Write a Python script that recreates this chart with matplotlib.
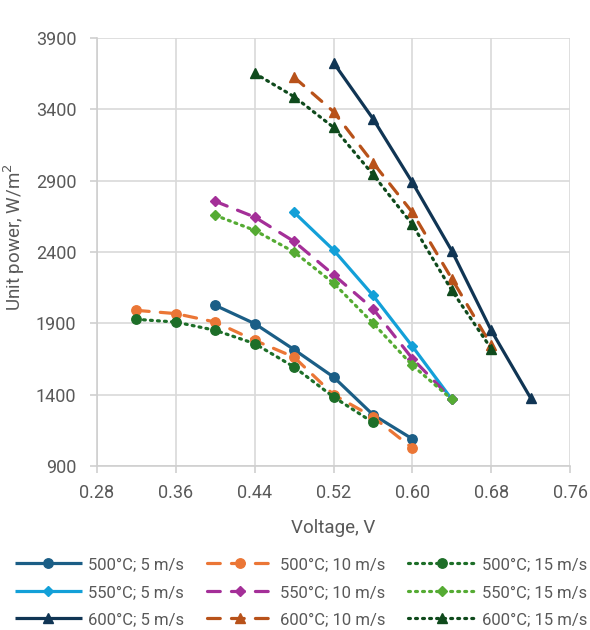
import numpy as np
import matplotlib.pyplot as plt

plt.rcParams['font.family'] = ['Roboto', 'DejaVu Sans']

# voltage, V
v_500 = [0.40, 0.44, 0.48, 0.52, 0.56, 0.60]
v_500_wide = [0.32, 0.36, 0.40, 0.44, 0.48, 0.52, 0.56, 0.60]
v_550_5 = [0.48, 0.52, 0.56, 0.60, 0.64]
v_550 = [0.40, 0.44, 0.48, 0.52, 0.56, 0.60, 0.64]
v_600_5 = [0.52, 0.56, 0.60, 0.64, 0.68, 0.72]
v_600_10 = [0.48, 0.52, 0.56, 0.60, 0.64, 0.68]
v_600_15 = [0.44, 0.48, 0.52, 0.56, 0.60, 0.64, 0.68]

# unit power, W/m2
p_500_5 = [2026, 1898, 1716, 1524, 1260, 1090]
p_500_10 = [1991, 1968, 1909, 1781, 1663, 1400, 1244, 1026]
p_500_15 = [1928, 1909, 1851, 1758, 1594, 1384, 1206]
p_550_5 = [2678, 2414, 2096, 1739, 1368]
p_550_10 = [2755, 2645, 2474, 2241, 2003, 1653, 1370]
p_550_15 = [2657, 2552, 2400, 2182, 1902, 1606, 1368]
p_600_5 = [3727, 3335, 2888, 2409, 1851, 1377]
p_600_10 = [3625, 3384, 3026, 2678, 2213, 1746]
p_600_15 = [3653, 3489, 3274, 2944, 2593, 2131, 1723]

solid = '-'
dashed = (0, (4, 3.5))
dotted = (0, (0.6, 1.6))

# order goes column by column in the legend
series = [
    ('500°C; 5 m/s', v_500, p_500_5, '#1B5E86', solid, 'o', 8.5),
    ('550°C; 5 m/s', v_550_5, p_550_5, '#13A0D8', solid, 'D', 6.5),
    ('600°C; 5 m/s', v_600_5, p_600_5, '#103554', solid, '^', 8.5),
    ('500°C; 10 m/s', v_500_wide, p_500_10, '#EB7636', dashed, 'o', 8.5),
    ('550°C; 10 m/s', v_550, p_550_10, '#A42F98', dashed, 'D', 6.5),
    ('600°C; 10 m/s', v_600_10, p_600_10, '#B8521A', dashed, '^', 8.5),
    ('500°C; 15 m/s', v_500_wide[:7], p_500_15, '#1D6E28', dotted, 'o', 8.5),
    ('550°C; 15 m/s', v_550, p_550_15, '#55AB33', dotted, 'D', 6.5),
    ('600°C; 15 m/s', v_600_15, p_600_15, '#0F4A1C', dotted, '^', 8.5),
]

fig = plt.figure(figsize=(5.9, 6.3), dpi=100)
ax = fig.add_axes([97 / 590, 1 - 466 / 630, 473 / 590, 428 / 630])

for label, x, y, color, ls, mk, ms in series:
    ax.plot(x, y, color=color, linestyle=ls, linewidth=2.3, marker=mk,
            markersize=ms, label=label, dash_capstyle='round',
            solid_capstyle='butt')

ticks_x = np.arange(0.28, 0.77, 0.08)
ax.set_xlim(0.28, 0.76)
ax.set_ylim(900, 3900)
ax.set_xticks(ticks_x)
ax.set_xticklabels([f'{t:.2f}' for t in ticks_x])
ax.set_yticks(np.arange(900, 3901, 500))
ax.grid(True, color='#D9D9D9', linewidth=1.2)
ax.set_axisbelow(True)
for side in ['top', 'right']:
    ax.spines[side].set_visible(False)
for side in ['bottom', 'left']:
    ax.spines[side].set_color('#CFCFCF')
    ax.spines[side].set_linewidth(1.2)
ax.tick_params(colors='#CFCFCF', labelcolor='#595959', labelsize=13,
               length=5, width=1.2)
ax.tick_params(axis='x', pad=8)
ax.tick_params(axis='y', pad=10)

ax.set_xlabel('Voltage, V', fontsize=13.5, color='#595959', labelpad=12)
ax.set_ylabel('Unit power, W/m$^2$', fontsize=13.5, color='#595959')
ax.yaxis.set_label_coords(-0.148, 0.535)

handles, labels = ax.get_legend_handles_labels()
for h in handles:
    h.set_markersize(h.get_markersize() * 0.8)
fig.legend(handles, labels, loc='lower center', ncol=3,
           bbox_to_anchor=(0.51, -0.014), frameon=False, fontsize=12,
           handlelength=4.0, columnspacing=1.35, handletextpad=0.4,
           labelspacing=0.75, borderaxespad=0.3, labelcolor='#595959')

fig.savefig('out.png', dpi=100, facecolor='white')
